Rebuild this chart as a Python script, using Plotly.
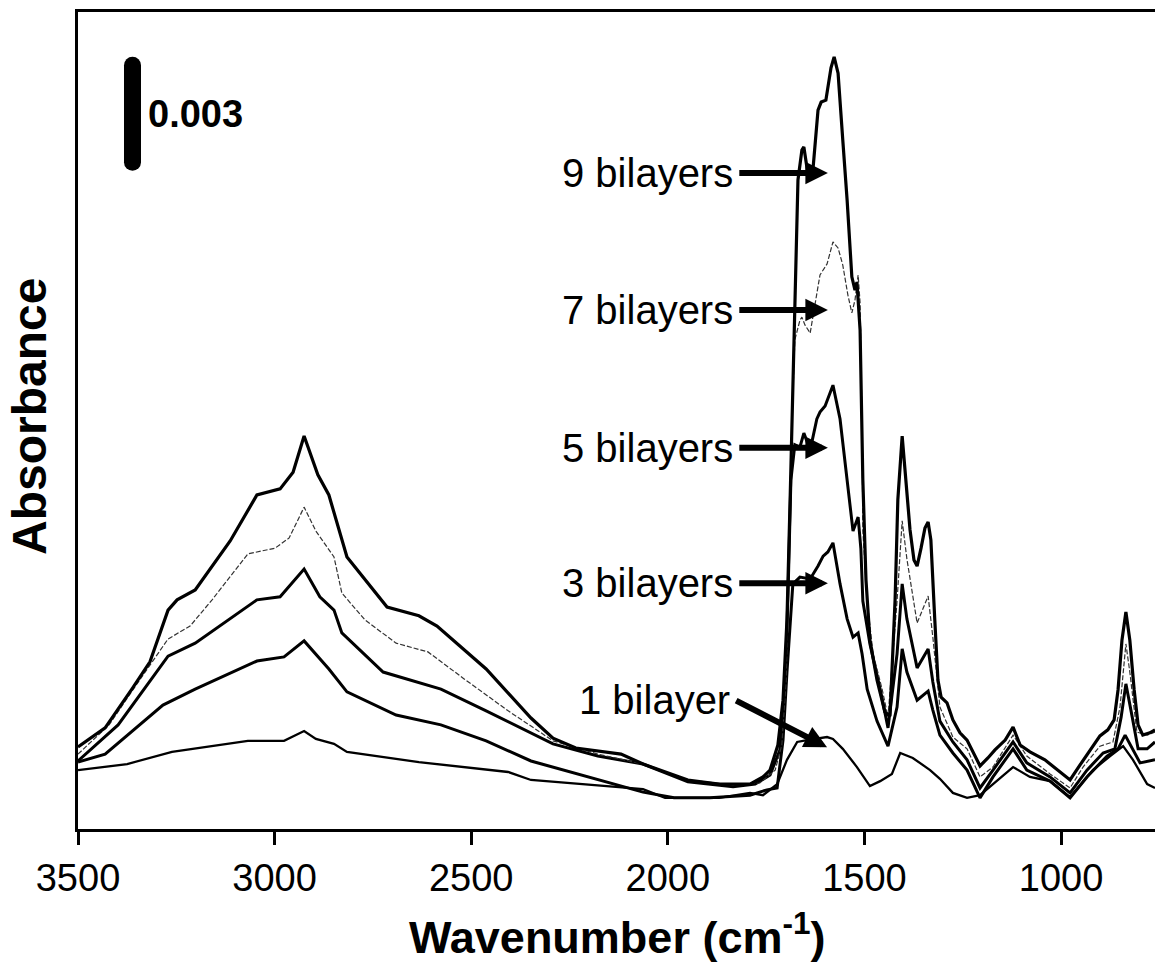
import numpy as np
import plotly.graph_objects as go

# FTIR spectra of multilayer films: wavenumber (cm-1) and absorbance (x 1e-3)
wn_9 = [3500, 3431, 3363, 3317, 3271, 3248, 3202, 3113, 3045, 2986, 2953, 2925, 2890, 2862, 2816, 2714,
        2633, 2587, 2462, 2348, 2292, 2234, 2119, 2063, 1949, 1870, 1791, 1758,
        1740, 1720, 1707, 1697, 1689, 1682, 1674, 1669, 1659, 1654, 1644, 1631, 1618, 1610, 1598, 1593,
        1585, 1577, 1567, 1555, 1544, 1532, 1524, 1519, 1511, 1504, 1496, 1486, 1468, 1448, 1435, 1422,
        1415, 1404, 1394, 1384, 1374, 1366, 1356, 1346, 1338, 1331, 1321, 1313, 1305, 1290, 1275, 1257,
        1239, 1221, 1206, 1186, 1168, 1142, 1122, 1104, 1079, 1041, 1008, 977, 952, 926, 901, 881,
        865, 855, 845, 835, 825, 814, 804, 792, 774, 761]
abs_9 = [2.16, 2.66, 3.68, 4.40, 5.76, 6.03, 6.29, 7.58, 8.79, 8.95, 9.39, 10.34, 9.32, 8.79, 7.16, 5.84,
         5.61, 5.34, 4.21, 2.92, 2.39, 2.13, 1.97, 1.71, 1.29, 1.18, 1.18, 1.37,
         1.55, 2.21, 3.39, 5.50, 8.66, 11.82, 14.97, 17.08, 17.87, 17.95, 17.26, 17.34, 18.92, 19.13, 19.18, 19.50,
         20.03, 20.32, 19.89, 18.13, 16.55, 14.53, 14.18, 14.39, 13.13, 9.18, 6.55, 4.97, 3.92, 3.08, 2.97, 6.03,
         8.66, 10.34, 9.18, 7.87, 7.08, 6.92, 7.39, 7.92, 8.08, 7.61, 5.50, 3.92, 3.47, 3.32, 2.87, 2.53,
         2.34, 1.95, 1.66, 1.87, 2.08, 2.34, 2.68, 2.21, 2.03, 1.82, 1.55, 1.29, 1.68, 2.08, 2.45, 2.61,
         2.87, 3.66, 4.97, 5.71, 4.97, 3.66, 2.74, 2.47, 2.53, 2.61]

wn_7 = [3500, 3421, 3352, 3271, 3215, 3159, 3068, 2999, 2963, 2925, 2895, 2849, 2829, 2770, 2691, 2610,
        2518, 2406, 2292, 2178, 2063, 1949, 1834, 1766,
        1727, 1710, 1699, 1692, 1684, 1677, 1664, 1659, 1651, 1638, 1621, 1613, 1595, 1580, 1567, 1555,
        1542, 1532, 1524, 1516, 1511, 1506, 1504, 1493, 1478, 1455, 1440, 1417, 1404, 1392, 1366, 1338,
        1326, 1308, 1275, 1239, 1206, 1173, 1122, 1087, 1028, 977, 944, 901, 868, 850, 835, 825,
        807, 781, 761]
abs_7 = [1.97, 2.74, 3.79, 5.00, 5.34, 6.03, 7.24, 7.39, 7.66, 8.47, 7.84, 7.16, 6.21, 5.50, 4.89, 4.66,
         3.95, 3.11, 2.32, 1.97, 1.71, 1.29, 1.16, 1.21,
         1.55, 2.21, 3.92, 7.08, 10.76, 12.87, 13.39, 13.47, 13.26, 13.05, 14.03, 14.58, 14.87, 15.45, 15.29, 14.84,
         14.05, 13.58, 13.92, 14.58, 13.84, 10.61, 7.84, 6.00, 4.61, 3.68, 2.95, 6.00, 8.11, 7.11, 5.42, 6.13,
         5.05, 3.21, 2.42, 2.11, 1.37, 1.63, 2.47, 1.92, 1.45, 1.08, 1.63, 2.18, 2.29, 3.21, 4.87, 4.13,
         2.55, 2.47, 2.55]

wn_5 = [3500, 3398, 3271, 3202, 3045, 2986, 2925, 2885, 2849, 2829, 2724, 2577, 2462, 2292, 2178, 2063,
        1949, 1834, 1778,
        1740, 1715, 1702, 1694, 1687, 1677, 1664, 1654, 1638, 1621, 1613, 1600, 1580, 1562, 1544, 1529,
        1516, 1509, 1504, 1486, 1460, 1440, 1417, 1404, 1392, 1366, 1338, 1326, 1308, 1275, 1239, 1206,
        1173, 1122, 1087, 1028, 977, 934, 893, 863, 847, 835, 819, 804, 781, 761]
abs_5 = [1.79, 2.74, 4.55, 4.89, 6.03, 6.11, 6.84, 6.11, 5.76, 5.16, 4.13, 3.68, 3.11, 2.24, 1.92, 1.71,
         1.24, 1.11, 1.18,
         1.42, 2.08, 3.66, 6.29, 9.18, 10.11, 10.05, 10.42, 9.97, 10.79, 10.97, 11.13, 11.68, 10.79, 9.24, 7.84,
         8.21, 7.37, 6.00, 4.87, 3.68, 2.66, 4.61, 6.45, 5.53, 4.24, 4.74, 3.87, 2.84, 2.29, 1.82, 1.08,
         1.55, 2.29, 1.74, 1.37, 0.95, 1.55, 2.00, 2.11, 2.95, 3.82, 2.95, 2.11, 2.11, 2.29]

wn_3 = [3500, 3431, 3284, 3202, 3045, 2976, 2925, 2862, 2816, 2691, 2577, 2462, 2348, 2178, 2063, 1984,
        1893, 1791,
        1748, 1722, 1707, 1697, 1682, 1664, 1638, 1618, 1605, 1593, 1580, 1562, 1544, 1529, 1516, 1506,
        1493, 1468, 1440, 1417, 1404, 1392, 1366, 1338, 1326, 1308, 1275, 1239, 1206, 1173, 1122, 1087,
        1028, 977, 934, 883, 855, 837, 819, 799, 761]
abs_3 = [1.76, 1.97, 3.26, 3.68, 4.42, 4.53, 4.95, 4.21, 3.61, 3.00, 2.74, 2.32, 1.79, 1.29, 0.97, 0.82,
         0.82, 0.89,
         1.03, 1.08, 2.34, 4.13, 6.45, 6.63, 6.58, 6.92, 7.18, 7.29, 7.53, 6.45, 5.53, 5.05, 5.16, 4.61,
         3.68, 2.84, 2.18, 3.21, 4.74, 4.13, 3.39, 3.63, 3.13, 2.47, 2.00, 1.55, 0.82, 1.37, 2.11, 1.55,
         1.26, 0.82, 1.37, 1.92, 2.11, 2.47, 2.11, 1.74, 1.82]

wn_1 = [3500, 3375, 3261, 3068, 2976, 2925, 2895, 2849, 2816, 2633, 2406, 2348, 2063, 2007, 1870, 1791,
        1758, 1722, 1697, 1671, 1646, 1621, 1595, 1580, 1555, 1519, 1486, 1460, 1430, 1409, 1377, 1333,
        1308, 1275, 1239, 1206, 1173, 1122, 1079, 1028, 977, 919, 875, 842, 817, 781, 761]
abs_1 = [1.55, 1.71, 2.03, 2.32, 2.32, 2.58, 2.37, 2.24, 2.03, 1.76, 1.50, 1.29, 1.05, 0.82, 0.82, 0.95,
         0.89, 1.18, 1.82, 2.29, 2.34, 2.37, 2.42, 2.37, 2.11, 1.63, 1.13, 1.26, 1.45, 2.00, 1.87, 1.55,
         1.32, 0.95, 0.82, 0.89, 1.18, 1.63, 1.37, 1.26, 0.84, 1.55, 1.92, 2.18, 1.82, 1.18, 1.08]

# Labels with arrows pointing at each spectrum (tail/tip in wavenumber, absorbance x 1e-3)
label_text = ["9 bilayers", "7 bilayers", "5 bilayers", "3 bilayers", "1 bilayer"]
arrow_tail_wn = [1822, 1822, 1822, 1822, 1830]
arrow_tail_abs = [17.26, 13.66, 10.03, 6.47, 3.40]
arrow_tip_wn = [1593, 1593, 1593, 1593, 1595]
arrow_tip_abs = [17.26, 13.66, 10.03, 6.47, 2.15]

x_ticks = [3500, 3000, 2500, 2000, 1500, 1000]
x_range = [3500, 761]
y_range = [0, 0.0215]

scale_bar_value = 0.003
scale_bar_top = 0.02032

FONT = "Arial, 'Liberation Sans', Helvetica, sans-serif"

spectra = [
    (wn_1, abs_1, dict(color="black", width=2.3)),
    (wn_3, abs_3, dict(color="black", width=3)),
    (wn_5, abs_5, dict(color="black", width=3)),
    (wn_7, abs_7, dict(color="#333333", width=1.2, dash="5px,2px")),
    (wn_9, abs_9, dict(color="black", width=3.2)),
]

fig = go.Figure()
for wn, a, line in spectra:
    fig.add_trace(go.Scatter(
        x=wn, y=np.array(a) * 1e-3, mode="lines", line=line,
        hoverinfo="skip", showlegend=False,
    ))

annotations = []
for txt, tx, ty, hx, hy in zip(label_text, arrow_tail_wn, arrow_tail_abs, arrow_tip_wn, arrow_tip_abs):
    annotations.append(dict(
        x=hx, y=hy * 1e-3, ax=tx, ay=ty * 1e-3, axref="x", ayref="y", xref="x", yref="y",
        text="", showarrow=True, arrowhead=2, arrowsize=0.75, arrowwidth=6, arrowcolor="black",
        standoff=0, startstandoff=0,
    ))
    annotations.append(dict(
        x=tx, y=ty * 1e-3, xref="x", yref="y", text=txt, showarrow=False,
        xanchor="right", yanchor="middle", xshift=-3,
        font=dict(family=FONT, size=40, color="black"),
    ))

# scale bar
bar_x = 0.0506
cap_r = 8.5
r_data = cap_r * (y_range[1] - y_range[0]) / 817
bar_bot = scale_bar_top - scale_bar_value
shapes = [
    dict(type="rect", xref="paper", xsizemode="pixel", xanchor=bar_x, x0=-cap_r, x1=cap_r,
         yref="y", y0=bar_bot + r_data, y1=scale_bar_top - r_data,
         fillcolor="black", line=dict(width=0)),
]
for yc in (bar_bot + r_data, scale_bar_top - r_data):
    shapes.append(dict(type="circle", xref="paper", xsizemode="pixel", xanchor=bar_x, x0=-cap_r, x1=cap_r,
                       yref="y", ysizemode="pixel", yanchor=yc, y0=-cap_r, y1=cap_r,
                       fillcolor="black", line=dict(width=0)))
annotations.append(dict(
    x=0.063, xref="paper", y=scale_bar_top - scale_bar_value / 2, yref="y",
    text="<b>%g</b>" % scale_bar_value, showarrow=False, xanchor="left", yanchor="middle",
    font=dict(family=FONT, size=38, color="black"),
))

# axis titles
annotations.append(dict(
    x=0.5, xref="paper", y=-0.091, yref="paper", yanchor="top",
    text="<b>Wavenumber (cm<sup>-1</sup>)</b>", showarrow=False,
    font=dict(family=FONT, size=45, color="black"),
))
annotations.append(dict(
    x=-0.045, xref="paper", y=0.505, yref="paper", textangle=-90,
    text="<b>Absorbance</b>", showarrow=False, xanchor="center", yanchor="middle",
    font=dict(family=FONT, size=48, color="black"),
))

fig.update_layout(
    width=1155, height=969,
    margin=dict(l=78, r=0, t=12, b=140),
    paper_bgcolor="white", plot_bgcolor="white",
    annotations=annotations, shapes=shapes,
    xaxis=dict(
        range=x_range, tickvals=x_ticks, ticks="outside", ticklen=13, tickwidth=3, tickcolor="black",
        showline=True, linewidth=3, linecolor="black", mirror=True, showgrid=False, zeroline=False,
        tickfont=dict(family=FONT, size=38, color="black"),
    ),
    yaxis=dict(
        range=y_range, showticklabels=False, ticks="", showline=True, linewidth=3, linecolor="black",
        showgrid=False, zeroline=False,
    ),
)

fig.write_html("out.html")
